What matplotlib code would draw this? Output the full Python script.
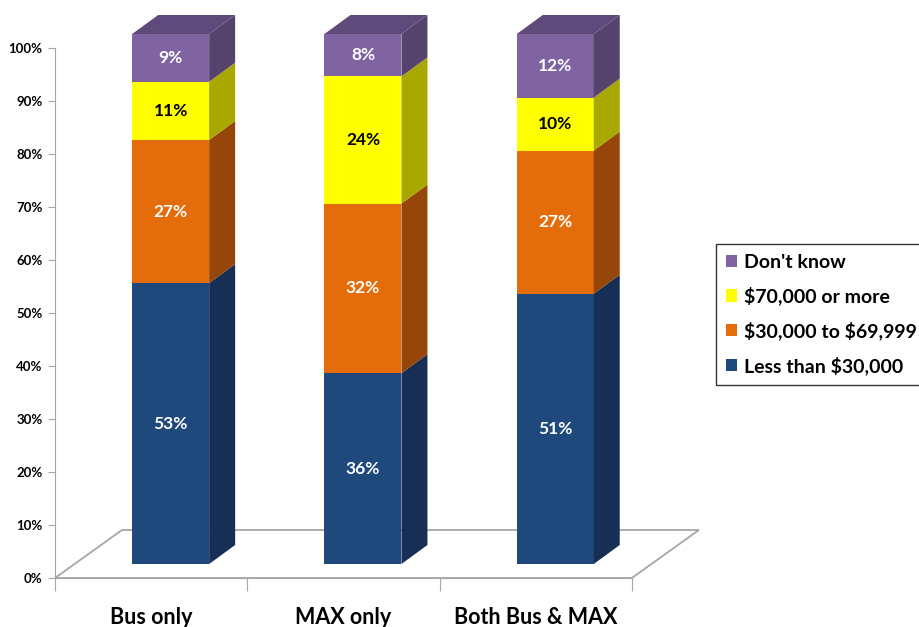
import matplotlib.pyplot as plt
from matplotlib.patches import Polygon, Patch
import numpy as np

plt.rcParams['font.family'] = ['Lato', 'DejaVu Sans']
plt.rcParams['font.weight'] = 'bold'
plt.rcParams['text.parse_math'] = False

categories = ["Bus only", "MAX only", "Both Bus & MAX"]
series = ["Less than $30,000", "$30,000 to $69,999", "$70,000 or more", "Don't know"]
less_30k = [53, 36, 51]
mid_30_70k = [27, 32, 27]
over_70k = [11, 24, 10]
dont_know = [9, 8, 12]

front_cols = ["#1F497D", "#E46C0A", "#FFFF00", "#8064A2"]
side_cols = ["#172F55", "#964608", "#A8A800", "#55436E"]
top_col = "#5F4B7B"
text_cols = ["white", "white", "black", "white"]

# pixel mapping: x unit = 192.3 px, y unit (1%) = 5.3 px
W, H = 919, 627
fig = plt.figure(figsize=(W / 100, H / 100), dpi=100)
ax = fig.add_axes([0, 0, 1, 1])
xu, yu = 192.3, 5.3
x0px, y0px = 55, 578
ax.set_xlim(-x0px / xu, (W - x0px) / xu)
ax.set_ylim((y0px - H) / yu, y0px / yu)
ax.patch.set_visible(False)

# depth offsets
fdx, fdy = 67 / xu, 48 / yu       # floor depth
sdx, sdy = 19.5 / xu, 14 / yu     # bar front plane inset
bdx, bdy = 26 / xu, 19 / yu       # bar depth
bw = 77 / xu

n = len(categories)
grey = "#A6A6A6"
floor = Polygon([(0, 0), (fdx, fdy), (n + fdx, fdy), (n, 0)], closed=True,
                facecolor="white", edgecolor=grey, lw=1.3, zorder=1)
ax.add_patch(floor)

data = np.array([less_30k, mid_30_70k, over_70k, dont_know], dtype=float)
x = np.arange(n) + 0.5
bottoms = np.zeros(n)
for i, vals in enumerate(data):
    left = x - bw / 2 + sdx
    ax.bar(left, vals, bw, bottom=bottoms + sdy, align='edge',
           color=front_cols[i], lw=0, zorder=3)
    for j in range(n):
        b = bottoms[j] + sdy
        t = b + vals[j]
        r = left[j] + bw
        ax.add_patch(Polygon([(r, b), (r + bdx, b + bdy), (r + bdx, t + bdy), (r, t)],
                             closed=True, facecolor=side_cols[i], lw=0, zorder=3))
        if i == len(data) - 1:
            ax.add_patch(Polygon([(left[j], t), (left[j] + bdx, t + bdy),
                                  (r + bdx, t + bdy), (r, t)],
                                 closed=True, facecolor=top_col, lw=0, zorder=3))
        ax.text(left[j] + bw / 2, b + vals[j] / 2, f"{int(vals[j])}%",
                ha='center', va='center', fontsize=12.5, fontweight='bold',
                color=text_cols[i], zorder=4)
    bottoms += vals

# axes
for s in ['top', 'right']:
    ax.spines[s].set_visible(False)
ax.spines['left'].set_position(('data', 0))
ax.spines['left'].set_bounds(0, 100)
ax.spines['left'].set_color(grey)
ax.spines['bottom'].set_position(('data', 0))
ax.spines['bottom'].set_bounds(0, n)
ax.spines['bottom'].set_color(grey)
ax.set_yticks(np.arange(0, 101, 10))
ax.set_yticklabels([f"{v}%" for v in range(0, 101, 10)], fontsize=9.5, fontweight='bold')
ax.tick_params(axis='y', length=5, color=grey, pad=4)
ax.set_xticks(np.arange(n + 1))
ax.set_xticklabels([])
ax.tick_params(axis='x', which='major', length=9, color=grey)
ax.set_xticks(x, minor=True)
ax.set_xticklabels(categories, minor=True, fontsize=15.5, fontweight='bold')
ax.tick_params(axis='x', which='minor', length=0, pad=21)

handles = [Patch(facecolor=front_cols[i], edgecolor='none', label=series[i])
           for i in range(len(series) - 1, -1, -1)]
leg = fig.legend(handles=handles, loc='upper left',
                 bbox_to_anchor=(716 / W, 1 - 244 / H), frameon=True,
                 fancybox=False, edgecolor='black', fontsize=14,
                 handlelength=0.6, handleheight=0.6, handletextpad=0.35,
                 labelspacing=0.82, borderpad=0.5, borderaxespad=0)
leg.get_frame().set_linewidth(1.0)
for t in leg.get_texts():
    t.set_fontweight('bold')

fig.savefig('out.png', dpi=100)
